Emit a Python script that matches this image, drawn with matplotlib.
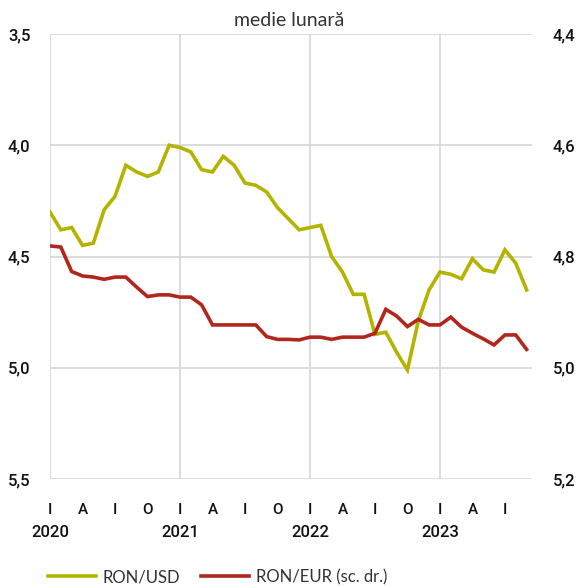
import numpy as np
import matplotlib
matplotlib.use("Agg")
import matplotlib.pyplot as plt

# monthly averages, Jan 2020 - Sep 2023
ron_usd = [4.30, 4.38, 4.37, 4.45, 4.44, 4.29, 4.23, 4.09, 4.12, 4.14, 4.12, 4.00,
           4.01, 4.03, 4.11, 4.12, 4.05, 4.09, 4.17, 4.18, 4.21, 4.28, 4.33, 4.38,
           4.37, 4.36, 4.50, 4.57, 4.67, 4.67, 4.85, 4.84, 4.93, 5.01, 4.79, 4.65,
           4.57, 4.58, 4.60, 4.51, 4.56, 4.57, 4.47, 4.53, 4.65]
ron_eur = [4.781, 4.783, 4.827, 4.835, 4.837, 4.841, 4.837, 4.837, 4.855, 4.872, 4.869, 4.869,
           4.873, 4.873, 4.887, 4.923, 4.923, 4.923, 4.923, 4.923, 4.944, 4.949, 4.949, 4.950,
           4.945, 4.945, 4.949, 4.945, 4.945, 4.945, 4.938, 4.895, 4.907, 4.926, 4.913, 4.923,
           4.923, 4.909, 4.927, 4.938, 4.948, 4.959, 4.941, 4.941, 4.967]
month_letters = ["I", "A", "I", "O"]
years = ["2020", "2021", "2022", "2023"]
left_ticks = [3.5, 4.0, 4.5, 5.0, 5.5]
right_ticks = [4.4, 4.6, 4.8, 5.0, 5.2]

green = "#b4b400"
red = "#b1271d"
grid_c = "#d9d9d9"
tick_font = ["Roboto", "DejaVu Sans"]

x = np.arange(len(ron_usd))

fig = plt.figure(figsize=(5.79, 5.87), dpi=100)
ax = fig.add_axes([50/579, 1-479/587, 482/579, 445/587])
ax2 = ax.twinx()

l1, = ax.plot(x, ron_usd, color=green, lw=2.6, solid_joinstyle="miter", label="RON/USD")
l2, = ax2.plot(x, ron_eur, color=red, lw=2.6, solid_joinstyle="miter", label="RON/EUR (sc. dr.)")

ax.set_xlim(0, 44.5)
ax.set_ylim(5.5, 3.5)
ax2.set_ylim(5.2, 4.4)

ax.set_yticks(left_ticks)
ax.set_yticklabels([f"{v:.1f}".replace(".", ",") for v in left_ticks])
ax2.set_yticks(right_ticks)
ax2.set_yticklabels([f"{v:.1f}".replace(".", ",") for v in right_ticks])

ax.grid(axis="y", color=grid_c, lw=1.3)
ax.set_axisbelow(True)
for i in range(len(years)):
    ax.axvline(12 * i, color=grid_c, lw=1.3, zorder=0)

for a in (ax, ax2):
    for s in a.spines.values():
        s.set_visible(False)
    a.tick_params(length=0)
ax.tick_params(axis="y", pad=14)
ax2.tick_params(axis="y", pad=15)

ticks = np.arange(0, 45, 3)
ax.set_xticks(ticks)
ax.set_xticklabels([month_letters[(t // 3) % 4] for t in ticks])
ax.tick_params(axis="x", pad=17)

for lab in ax.get_yticklabels() + ax2.get_yticklabels():
    lab.set_family(tick_font)
    lab.set_fontsize(12)
    lab.set_weight("medium")
    lab.set_color("#111111")
for lab in ax.get_xticklabels():
    lab.set_family(tick_font)
    lab.set_fontsize(11)
    lab.set_weight("medium")
    lab.set_color("#111111")

for i, yr in enumerate(years):
    ax.text(12 * i, -0.121, yr, transform=ax.get_xaxis_transform(), ha="center", va="center",
            family=tick_font, fontsize=12, weight="medium", color="#111111")

fig.text(0.5, 1 - 21/587, "medie lunară", ha="center", va="center",
         family=["Lato", "DejaVu Sans"], fontsize=14, color="#333333")

fig.legend(handles=[l1, l2], loc="center left", bbox_to_anchor=(48/579, 1 - 577/587),
           ncol=2, frameon=False, borderpad=0, borderaxespad=0, handlelength=2.9,
           handletextpad=0.4, columnspacing=1.2,
           prop={"family": ["Lato", "DejaVu Sans"], "size": 12}, labelcolor="#333333")

fig.savefig("out.png", dpi=100)
